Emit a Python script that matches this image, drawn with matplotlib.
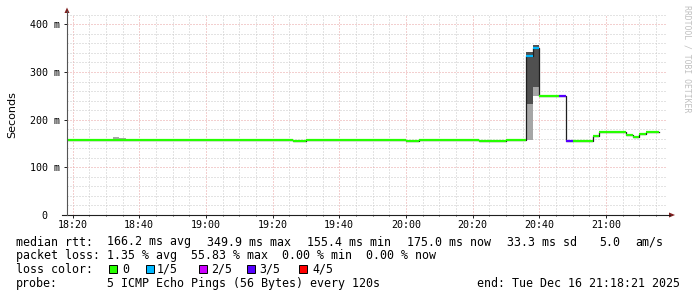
import matplotlib
matplotlib.use("Agg")
import matplotlib.pyplot as plt
import matplotlib.dates as mdates
from matplotlib.lines import Line2D
from matplotlib.patches import Polygon
from datetime import datetime

plt.rcParams['lines.scale_dashes'] = False

# ---------------- data ----------------
seg_start = ["18:18", "19:26", "19:30", "20:00", "20:04", "20:22", "20:30", "20:36", "20:38",
             "20:40", "20:46", "20:48", "20:50", "20:56", "20:58", "21:06", "21:08", "21:10", "21:12"]
seg_end = ["19:26", "19:30", "20:00", "20:04", "20:22", "20:30", "20:36", "20:38", "20:40",
           "20:46", "20:48", "20:50", "20:56", "20:58", "21:06", "21:08", "21:10", "21:12", "21:16"]
median_ms = [156.5, 154.5, 156.5, 154.5, 156.5, 154.5, 156.5, 333.5, 349.9,
             250.0, 250.0, 155.8, 155.8, 165.0, 174.5, 168.0, 164.0, 170.0, 175.0]
loss_idx = [0, 0, 0, 0, 0, 0, 0, 1, 1, 0, 3, 3, 0, 0, 0, 0, 0, 0, 0]

light_smoke_start = ["18:32", "18:34", "20:36", "20:38"]
light_smoke_low = [156.5, 156.5, 157.0, 250.0]
light_smoke_high = [163.6, 161.5, 233.0, 268.0]

dark_smoke_start = ["20:36", "20:38"]
dark_smoke_low = [233.0, 268.0]
dark_smoke_high = [342.0, 356.0]

loss_labels = ["0", "1/5", "2/5", "3/5", "4/5"]
loss_colors = ["#26ff00", "#00b8ff", "#cc00ff", "#5500ff", "#ff0000"]

y_ticks = [0, 100, 200, 300, 400]
y_tick_labels = ["0  ", "100 m", "200 m", "300 m", "400 m"]

rtt_items = ["median rtt:", "166.2 ms avg", "349.9 ms max", "155.4 ms min",
             "175.0 ms now", "33.3 ms sd", "5.0", "am/s"]
loss_row = "packet loss: 1.35 % avg  55.83 % max  0.00 % min  0.00 % now"
color_row = "loss color:"
probe_items = ["probe:", "5 ICMP Echo Pings (56 Bytes) every 120s"]
end_text = "end: Tue Dec 16 21:18:21 2025"


def t(s):
    h, m = map(int, s.split(":"))
    return datetime(2025, 12, 16, h, m)


W, H = 697, 297
MONO = "DejaVu Sans Mono"


def fx(px):
    return px / W


def fy(py):
    return 1 - py / H


fig = plt.figure(figsize=(W / 100, H / 100), dpi=100, facecolor="white")
ax = fig.add_axes([fx(67), fy(215), 600 / W, (215 - 14.8) / H])
ax.set_facecolor("white")

x0 = datetime(2025, 12, 16, 18, 18, 21)
x1 = datetime(2025, 12, 16, 21, 18, 21)
ax.set_xlim(x0, x1)
ax.set_ylim(0, 420)

two_min = 2 / (24 * 60)

# smoke
ax.bar([t(s) for s in light_smoke_start],
       [h - l for h, l in zip(light_smoke_high, light_smoke_low)],
       bottom=light_smoke_low, width=two_min, align="edge",
       color="#a6a6a6", linewidth=0, zorder=3)
ax.bar([t(s) for s in dark_smoke_start],
       [h - l for h, l in zip(dark_smoke_high, dark_smoke_low)],
       bottom=dark_smoke_low, width=two_min, align="edge",
       color="#505050", linewidth=0, zorder=3)

# median step connections
xs = [t(s) for s in seg_start] + [t(seg_end[-1])]
ys = median_ms + [median_ms[-1]]
ax.plot(xs, ys, drawstyle="steps-post", color="#1f1f1f", lw=0.9, zorder=4)
# median coloured by loss
for s, e, v, li in zip(seg_start, seg_end, median_ms, loss_idx):
    ax.hlines(v, t(s), t(e), color=loss_colors[li], lw=1.6, zorder=5)

# grid
ax.xaxis.set_major_locator(mdates.MinuteLocator(byminute=[0, 20, 40]))
ax.xaxis.set_minor_locator(mdates.MinuteLocator(byminute=range(0, 60, 5)))
ax.xaxis.set_major_formatter(mdates.DateFormatter("%H:%M"))
ax.set_yticks(y_ticks)
ax.set_yticklabels(y_tick_labels)
ax.set_yticks(range(0, 421, 20), minor=True)

ax.grid(True, which="minor", color="#c8c8c8", lw=0.72, linestyle=(0, (0.72, 1.44)), zorder=1)
ax.grid(True, which="major", color="#e8a0a0", lw=0.72, linestyle=(0, (0.72, 1.44)), zorder=2)
ax.set_axisbelow(True)

for sp in ax.spines.values():
    sp.set_visible(False)

ax.tick_params(axis="x", which="major", length=2.2, width=0.7, color="#1f1f1f",
               pad=1.5, labelsize=7.2, direction="out")
ax.tick_params(axis="x", which="minor", length=1.0, width=0.6, color="#1f1f1f", direction="out")
ax.tick_params(axis="y", which="major", length=2.2, width=0.7, color="#1f1f1f",
               pad=3.2, labelsize=7.2, direction="out")
ax.tick_params(axis="y", which="minor", length=0, direction="out")
for lab in ax.get_xticklabels() + ax.get_yticklabels():
    lab.set_family(MONO)

ax.set_ylabel("Seconds", fontsize=8, family="DejaVu Sans")
ax.yaxis.set_label_coords((17 - 67) / 600, 0.5)

# axes lines and arrows
fig.add_artist(Line2D([fx(62), fx(670)], [fy(215), fy(215)], color="#1f1f1f", lw=0.8,
                      transform=fig.transFigure))
fig.add_artist(Line2D([fx(67), fx(67)], [fy(215), fy(11)], color="#555555", lw=0.8,
                      transform=fig.transFigure))
fig.add_artist(Polygon([[fx(669), fy(212.5)], [fx(675), fy(215)], [fx(669), fy(217.5)]],
                       closed=True, color="#801f1f", transform=fig.transFigure, lw=0))
fig.add_artist(Polygon([[fx(64.5), fy(13)], [fx(67), fy(7.5)], [fx(69.5), fy(13)]],
                       closed=True, color="#801f1f", transform=fig.transFigure, lw=0))

# watermark
fig.text(fx(687), fy(59), "RRDTOOL / TOBI OETIKER", rotation=270, fontsize=5.9,
         family=MONO, color="#c0c0c0", ha="center", va="center")

# legend rows
LFS = 8.4
baselines = [245.5, 259.3, 273.0, 286.7]
rtt_x = [16, 107.3, 207.3, 307, 407, 506.7, 599, 635.7]
for txt, x in zip(rtt_items, rtt_x):
    fig.text(fx(x), fy(baselines[0]), txt, family=MONO, fontsize=LFS, ha="left", va="baseline")
fig.text(fx(16), fy(baselines[1]), loss_row, family=MONO, fontsize=LFS, ha="left", va="baseline")
fig.text(fx(16), fy(baselines[2]), color_row, family=MONO, fontsize=LFS, ha="left", va="baseline")
for txt, x in zip(probe_items, [16, 107.3]):
    fig.text(fx(x), fy(baselines[3]), txt, family=MONO, fontsize=LFS, ha="left", va="baseline")
fig.text(fx(680), fy(baselines[3]), end_text, family=MONO, fontsize=LFS, ha="right", va="baseline")

swatch_x = [109, 145.5, 199, 247, 299]
label_x = [122, 157, 211, 259.5, 312]
for lab, col, sx, lx in zip(loss_labels, loss_colors, swatch_x, label_x):
    fig.add_artist(plt.Rectangle((fx(sx), fy(272.5)), 8 / W, 8 / H, facecolor=col,
                                 edgecolor="black", lw=0.7, transform=fig.transFigure))
    fig.text(fx(lx), fy(baselines[2]), lab, family=MONO, fontsize=LFS, ha="left", va="baseline")

fig.savefig("out.png", dpi=100, facecolor="white")
